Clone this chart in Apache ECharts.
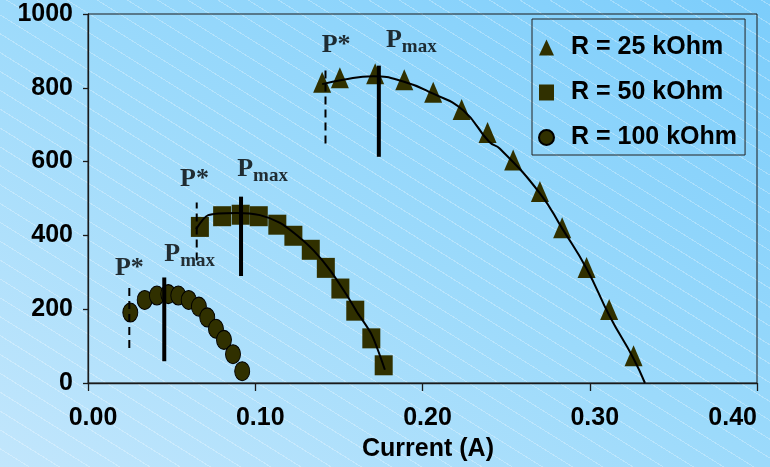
<!DOCTYPE html>
<html><head><meta charset="utf-8">
<script src="https://cdn.jsdelivr.net/npm/echarts@6/dist/echarts.min.js"></script>
<style>
html,body{margin:0;padding:0;}
#chart{width:770px;height:467px;
background:
 repeating-linear-gradient(32deg, rgba(255,255,255,0) 0px, rgba(255,255,255,0) 15px, rgba(255,255,255,0.28) 15px, rgba(255,255,255,0.28) 16px),
 linear-gradient(to top right, #c2e6fc 0%, #9cdafb 50%, #7ccdfb 100%);}
</style></head>
<body><div id="chart"></div>
<script>
// ---- data ----
const seriesNames = ['R = 25 kOhm', 'R = 50 kOhm', 'R = 100 kOhm'];

const r25Current = [0.140, 0.1506, 0.1717, 0.1891, 0.2064, 0.2234, 0.2389, 0.2542, 0.2702, 0.2835, 0.2981, 0.3116, 0.3262];
const r25Power   = [815, 827, 838, 822, 788, 741, 679, 604, 519, 421, 313, 199, 74];

const r50Current = [0.0669, 0.0802, 0.0913, 0.1021, 0.1132, 0.1228, 0.1332, 0.1422, 0.1509, 0.1598, 0.1694, 0.1768];
const r50Power   = [423, 452, 456, 452, 429, 399, 361, 312, 256, 196, 121, 48];

const r100Current = [0.0253, 0.0339, 0.0412, 0.0480, 0.0540, 0.0602, 0.0663, 0.0713, 0.0765, 0.0813, 0.0867, 0.0922];
const r100Power   = [191, 225, 237, 241, 237, 225, 207, 178, 147, 117, 78, 32];

// fitted curves
const r25FitCurrent = [0.140, 0.1526, 0.1705, 0.1885, 0.2064, 0.2243, 0.240, 0.2463, 0.2702, 0.2835, 0.298, 0.312, 0.326, 0.333];
const r25FitPower   = [810, 822, 831, 817, 784, 739, 653, 635, 514, 419, 311, 180, 68, 0];
const r50FitCurrent = [0.0646, 0.0719, 0.0889, 0.1028, 0.1148, 0.1247, 0.1347, 0.1447, 0.1546, 0.1606, 0.1696, 0.1775];
const r50FitPower   = [417, 455, 461, 455, 434, 401, 360, 306, 239, 194, 131, 36];

// P* (dashed) and Pmax (solid) markers: x, yBottom, yTop
const pStarX    = [0.1420, 0.0650, 0.0247];
const pStarLow  = [649, 332, 95];
const pStarHigh = [857, 489, 263];
const pMaxX     = [0.1739, 0.0915, 0.0456];
const pMaxLow   = [613, 290, 59];
const pMaxHigh  = [860, 505, 286];

// annotation text anchors (left edge, middle of "P")
const pStarLabelX = [0.1397, 0.0550, 0.0161];
const pStarLabelY = [916, 553, 312];
const pMaxLabelX  = [0.1781, 0.0892, 0.0456];
const pMaxLabelY  = [930, 580, 350];

// axes
const xMin = 0, xMax = 0.4, xStep = 0.1;
const yMin = 0, yMax = 1000, yStep = 200;
const xAxisName = 'Current (A)';

// ---- chart ----
const SANS = '"Liberation Sans", Arial, sans-serif';
const SERIF = '"Liberation Serif", "Times New Roman", serif';
const MARK = '#303000';
const zip = (a, b) => a.map((v, i) => [v, b[i]]);
const ellipse = 'path://M0,1 A1,1 0 1,1 2,1 A1,1 0 1,1 0,1 Z';

const series = [
  { name: seriesNames[0], type: 'scatter', symbol: 'triangle', symbolSize: [18, 21],
    itemStyle: { color: MARK, opacity: 1 }, data: zip(r25Current, r25Power), z: 2 },
  { name: seriesNames[1], type: 'scatter', symbol: 'rect', symbolSize: [18, 20],
    itemStyle: { color: MARK, opacity: 1 }, data: zip(r50Current, r50Power), z: 2 },
  { name: seriesNames[2], type: 'scatter', symbol: ellipse, symbolSize: [15, 19],
    itemStyle: { color: MARK, borderColor: '#000', borderWidth: 1, opacity: 1 }, data: zip(r100Current, r100Power), z: 2 },
  { type: 'line', smooth: true, showSymbol: false, symbol: 'none', silent: true,
    lineStyle: { color: '#000', width: 2 }, data: zip(r25FitCurrent, r25FitPower), z: 4 },
  { type: 'line', smooth: 0.25, showSymbol: false, symbol: 'none', silent: true,
    lineStyle: { color: '#000', width: 2 }, data: zip(r50FitCurrent, r50FitPower), z: 4 }
];

pStarX.forEach((x, i) => {
  series.push({ type: 'line', symbol: 'none', silent: true, z: 5,
    lineStyle: { color: '#000', width: 2, type: [8, 5] },
    data: [[x, pStarLow[i]], [x, pStarHigh[i]]] });
});
pMaxX.forEach((x, i) => {
  series.push({ type: 'line', symbol: 'none', silent: true, z: 5,
    lineStyle: { color: '#000', width: 4 },
    data: [[x, pMaxLow[i]], [x, pMaxHigh[i]]] });
});

const labelRich = {
  p: { fontFamily: SERIF, fontWeight: 'bold', fontSize: 26, color: '#000' },
  s: { fontFamily: SERIF, fontWeight: 'bold', fontSize: 19, color: '#000', padding: [15, 0, 0, 0] }
};
series.push({ type: 'scatter', silent: true, symbolSize: 0.1, itemStyle: { color: 'transparent' }, z: 6,
  data: zip(pStarLabelX, pStarLabelY),
  label: { show: true, position: 'right', distance: 0, formatter: '{p|P*}', rich: labelRich } });
series.push({ type: 'scatter', silent: true, symbolSize: 0.1, itemStyle: { color: 'transparent' }, z: 6,
  data: zip(pMaxLabelX, pMaxLabelY),
  label: { show: true, position: 'right', distance: 0, formatter: '{p|P}{s|max}', rich: labelRich } });

const axisText = { fontFamily: SANS, fontWeight: 'bold', fontSize: 25, color: '#000' };

const option = {
  backgroundColor: 'transparent',
  animation: false,
  grid: { left: 88, right: 13, top: 14, bottom: 82, show: true, borderColor: '#1a1a1a', borderWidth: 1, backgroundColor: 'transparent' },
  legend: {
    orient: 'vertical', left: 532, top: 19,
    padding: [16, 8, 5, 6],
    itemWidth: 15, itemHeight: 16, itemGap: 20,
    borderColor: '#222', borderWidth: 1, backgroundColor: 'transparent',
    textStyle: { fontFamily: SANS, fontWeight: 'bold', fontSize: 25, color: '#000', padding: [0, 0, 0, 12] },
    data: [
      { name: seriesNames[0], icon: 'triangle' },
      { name: seriesNames[1], icon: 'rect' },
      { name: seriesNames[2], icon: 'circle' }
    ]
  },
  xAxis: {
    type: 'value', min: xMin, max: xMax, interval: xStep,
    name: xAxisName, nameLocation: 'middle', nameGap: 54,
    nameTextStyle: Object.assign({ padding: [0, 0, 0, 11] }, axisText),
    axisLine: { show: true, onZero: false, lineStyle: { color: '#1a1a1a', width: 1.3 } },
    axisTick: { show: true, length: 8, lineStyle: { color: '#1a1a1a', width: 1.3 } },
    splitLine: { show: false },
    axisLabel: Object.assign({ margin: 23, padding: [0, 0, 0, 10], alignMaxLabel: 'right',
      formatter: v => v.toFixed(2) }, axisText)
  },
  yAxis: {
    type: 'value', min: yMin, max: yMax, interval: yStep,
    axisLine: { show: true, onZero: false, lineStyle: { color: '#1a1a1a', width: 1.3 } },
    axisTick: { show: true, length: 5, lineStyle: { color: '#1a1a1a', width: 1.3 } },
    splitLine: { show: false },
    axisLabel: Object.assign({ margin: 15, formatter: v => String(Math.round(v)) }, axisText)
  },
  series: series
};

const chart = echarts.init(document.getElementById('chart'), null, { renderer: 'canvas' });
chart.setOption(option);
</script></body></html>
